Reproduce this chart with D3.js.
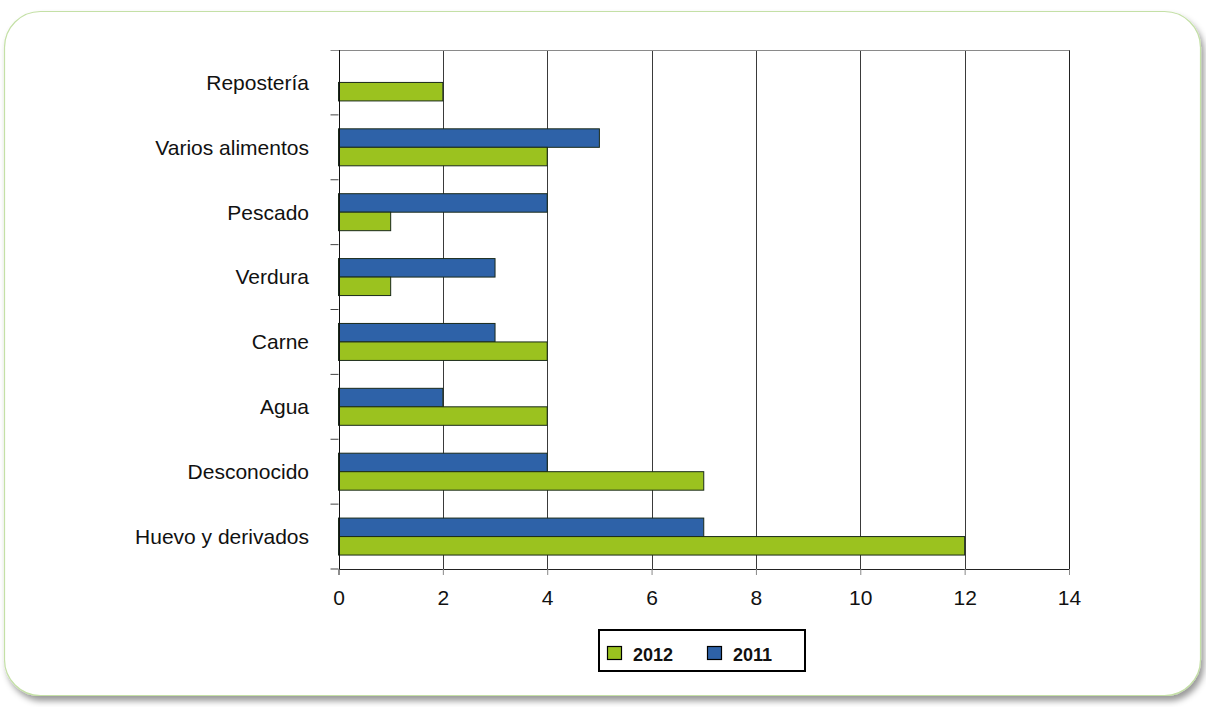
<!DOCTYPE html>
<html>
<head>
<meta charset="utf-8">
<script src="https://cdn.jsdelivr.net/npm/d3@7"></script>
<style>
  html, body { margin: 0; padding: 0; background: #ffffff; }
  svg { display: block; }
  text { font-family: "Liberation Sans", Arial, sans-serif; }
</style>
</head>
<body>
<script>
// Categories, top to bottom
const categories = ["Repostería", "Varios alimentos", "Pescado", "Verdura", "Carne", "Agua", "Desconocido", "Huevo y derivados"];
// Series values per category (null = no bar)
const values2011 = [null, 5, 4, 3, 3, 2, 4, 7];
const values2012 = [2, 4, 1, 1, 4, 4, 7, 12];
const xTicks = [0, 2, 4, 6, 8, 10, 12, 14];
const seriesNames = ["2012", "2011"];
const seriesColors = { "2012": "#9bc21f", "2011": "#2e62a8" };

const W = 1206, H = 707;
const plot = { left: 338.5, right: 1069, top: 50, bottom: 569 };

const svg = d3.select("body").append("svg").attr("width", W).attr("height", H);

// Drop shadow for the rounded panel
const defs = svg.append("defs");
const f = defs.append("filter").attr("id", "panelShadow")
  .attr("x", "-5%").attr("y", "-5%").attr("width", "110%").attr("height", "115%");
f.append("feDropShadow").attr("dx", 3).attr("dy", 5).attr("stdDeviation", 3)
  .attr("flood-color", "#000").attr("flood-opacity", 0.4);

svg.append("rect")
  .attr("x", 4.5).attr("y", 11.5).attr("width", 1196).attr("height", 684)
  .attr("rx", 36).attr("ry", 36)
  .attr("fill", "#ffffff").attr("stroke", "#c4e0a6").attr("stroke-width", 1.2)
  .attr("filter", "url(#panelShadow)");

const x = d3.scaleLinear().domain([0, 14]).range([plot.left, plot.right]);
const y = d3.scaleBand().domain(categories).range([plot.top, plot.bottom]).paddingInner(0.43).paddingOuter(0.215);
const inner = d3.scaleBand().domain(["2011", "2012"]).range([0, y.bandwidth()]);

// Category band boundaries for the left-axis ticks
const band = d3.scaleBand().domain(categories).range([plot.top, plot.bottom]);

// Vertical grid lines
svg.append("g").selectAll("line").data(xTicks.slice(1))
  .join("line")
  .attr("x1", d => Math.round(x(d)) + 0.5).attr("x2", d => Math.round(x(d)) + 0.5)
  .attr("y1", plot.top).attr("y2", plot.bottom)
  .attr("stroke", d => d === 14 ? "#222" : "#3a3a3a").attr("stroke-width", 1);

// Top border
svg.append("line")
  .attr("x1", plot.left - 8).attr("x2", Math.round(x(14)) + 0.5)
  .attr("y1", plot.top + 0.5).attr("y2", plot.top + 0.5)
  .attr("stroke", "#8a8a8a").attr("stroke-width", 1);

// Bars
const rows = categories.map((c, i) => ({ c, v2011: values2011[i], v2012: values2012[i] }));
const barsG = svg.append("g");
["2011", "2012"].forEach(s => {
  barsG.selectAll("rect.s" + s)
    .data(rows.filter(r => r["v" + s] != null))
    .join("rect")
    .attr("class", "s" + s)
    .attr("x", x(0))
    .attr("y", r => y(r.c) + inner(s))
    .attr("width", r => x(r["v" + s]) - x(0))
    .attr("height", inner.bandwidth())
    .attr("fill", seriesColors[s])
    .attr("stroke", "#1a2a1a").attr("stroke-width", 1);
});

// X axis
const xAxis = d3.axisBottom(x).tickValues(xTicks).tickSize(6).tickPadding(15).tickFormat(d3.format("d"));
const gx = svg.append("g").attr("transform", `translate(0,${plot.bottom})`).call(xAxis);
gx.select(".domain").attr("stroke", "#222");
gx.selectAll(".tick line").attr("stroke", "#888");
gx.selectAll("text").attr("font-size", 21).attr("fill", "#111").attr("font-family", "Liberation Sans, Arial, sans-serif");

// Y axis line and ticks at band boundaries
const gy = svg.append("g");
gy.append("line").attr("x1", Math.round(plot.left) + 0.5).attr("x2", Math.round(plot.left) + 0.5)
  .attr("y1", plot.top).attr("y2", plot.bottom).attr("stroke", "#111");
gy.selectAll("line.tk").data(categories.slice(1).concat(["end"]))
  .join("line").attr("class", "tk")
  .attr("x1", plot.left - 8).attr("x2", plot.left)
  .attr("y1", d => d === "end" ? plot.bottom : band(d))
  .attr("y2", d => d === "end" ? plot.bottom : band(d))
  .attr("stroke", "#444");

// Category labels
svg.append("g").selectAll("text").data(categories)
  .join("text")
  .attr("x", 309).attr("y", d => band(d) + band.bandwidth() / 2)
  .attr("dy", "0.35em").attr("text-anchor", "end")
  .attr("font-size", 21).attr("fill", "#111")
  .text(d => d);

// Legend
const lg = svg.append("g");
lg.append("rect").attr("x", 599).attr("y", 630).attr("width", 206).attr("height", 41)
  .attr("fill", "#fff").attr("stroke", "#000").attr("stroke-width", 2);
const legendX = { "2012": 607, "2011": 707 };
seriesNames.forEach(s => {
  lg.append("rect").attr("x", legendX[s] + 0.5).attr("y", 646.5).attr("width", 14).attr("height", 13)
    .attr("fill", seriesColors[s]).attr("stroke", "#000").attr("stroke-width", 1.2);
  lg.append("text").attr("x", legendX[s] + 26).attr("y", 661)
    .attr("font-size", 18).attr("font-weight", "bold").attr("fill", "#111").text(s);
});
</script>
</body>
</html>
